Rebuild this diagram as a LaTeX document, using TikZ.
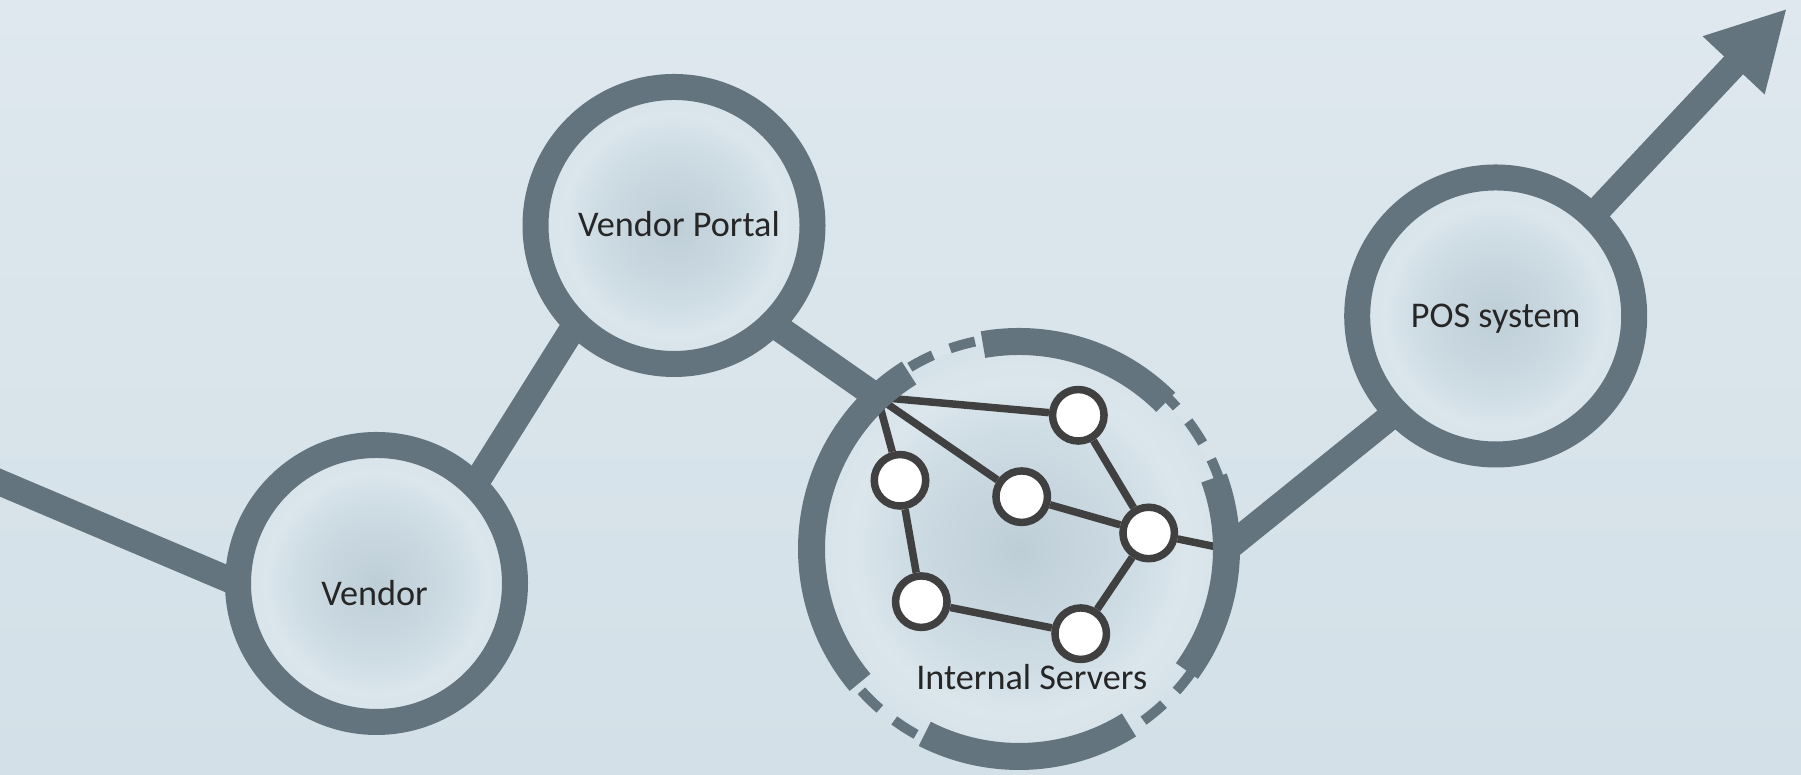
\documentclass[tikz,border=0pt]{standalone}
\usepackage{fontspec}
\setmainfont{Carlito}
\usetikzlibrary{arrows.meta,calc}

\definecolor{bgtop}{RGB}{222,232,238}
\definecolor{bgbot}{RGB}{211,224,231}
\definecolor{ringcol}{RGB}{99,116,126}
\definecolor{netcol}{RGB}{64,64,64}
\definecolor{txtcol}{RGB}{38,38,38}
\definecolor{glowcore}{RGB}{190,206,215}
\definecolor{glowmid}{RGB}{206,220,228}
\definecolor{glowrim}{RGB}{219,230,236}
\definecolor{glowedge}{RGB}{214,226,233}

\pgfdeclareradialshading{glow}{\pgfpoint{0bp}{0bp}}{color(0bp)=(glowcore); color(14bp)=(glowmid); color(20bp)=(glowrim); color(25bp)=(glowedge); color(50bp)=(glowedge)}

\begin{document}
\begin{tikzpicture}[font=\fontsize{10.3}{12}\selectfont]

% Define styles
\tikzstyle{station} = [circle, shade, shading=glow, draw=ringcol, line width=0.26cm, minimum size=2.77cm, inner sep=0pt, outer sep=0pt]
\tikzstyle{caption} = [anchor=base, text=txtcol, inner sep=0pt]
\tikzstyle{server} = [circle, draw=netcol, fill=white, line width=0.075cm, minimum size=0.515cm, inner sep=0pt]
\tikzstyle{link} = [draw=netcol, line width=0.075cm]
\tikzstyle{pipe} = [draw=ringcol, line width=0.26cm]
\tikzstyle{rim} = [draw=ringcol, line width=0.27cm]
\tikzstyle{dashrim} = [draw=ringcol, line width=0.10cm, dash pattern=on 0.259cm off 0.185cm, dash phase=0.222cm]

\useasboundingbox (0,0) rectangle (18.01,7.75);
\shade[top color=bgtop, bottom color=bgbot] (0,0) rectangle (18.01,7.75);

% Stations
\node[station] (vendor) at (3.765,1.915) {};
\node[station] (portal) at (6.74,5.495) {};
\node[station] (pos) at (14.957,4.59) {};
\node[circle, shade, shading=glow, minimum size=4.15cm, inner sep=0pt, outer sep=0pt] (internal) at (10.19,2.26) {};

% Captions
\node[caption] (vendortxt) at ([xshift=-0.02cm, yshift=-0.225cm]vendor.center) {Vendor};
\node[caption] (portaltxt) at ([xshift=0.05cm, yshift=-0.112cm]portal.center) {Vendor Portal};
\node[caption] (postxt) at ([yshift=-0.117cm]pos.center) {POS system};
\node[caption] (internaltxt) at ([xshift=0.127cm, yshift=-1.41cm]internal.center) {Internal Servers};

% Server network
\coordinate (hub) at (internal.133);
\node[server] (s1) at (10.783,3.597) {};
\node[server] (s2) at (9.00,2.947) {};
\node[server] (s3) at (10.217,2.783) {};
\node[server] (s4) at (11.487,2.42) {};
\node[server] (s5) at (9.213,1.733) {};
\node[server] (s6) at (10.807,1.413) {};

\draw[link] (hub) -- (s1);
\draw[link] (hub) -- (s2);
\draw[link] (hub) -- (s3);
\draw[link] (s1) -- (s4);
\draw[link] (s3) -- (s4);
\draw[link] (s4) -- (internal.east);
\draw[link] (s2) -- (s5);
\draw[link] (s5) -- (s6);
\draw[link] (s6) -- (s4);

% Broken ring round the servers
\draw[dashrim] (internal.center) circle[radius=2.12];
\draw[rim] (internal.45) arc[start angle=45, end angle=100, radius=2.075];
\draw[rim] (internal.122) arc[start angle=122, end angle=220, radius=2.075];
\draw[rim] (internal.243) arc[start angle=243, end angle=302, radius=2.075];
\draw[rim] (internal.324) arc[start angle=324, end angle=380, radius=2.075];

% Links between stations
\coordinate (west) at (-0.2,3.009);
\coordinate (tip) at (17.87,7.665);
\draw[pipe] (west) -- (vendor.180);
\draw[pipe] (vendor.45) -- (portal.225);
\draw[pipe] (portal.315) -- (hub);
\draw[pipe] (internal.east) -- (pos.224);
\draw[pipe, -{Triangle[length=0.78cm, width=0.79cm]}] (pos.46) -- (tip);

\end{tikzpicture}
\end{document}
